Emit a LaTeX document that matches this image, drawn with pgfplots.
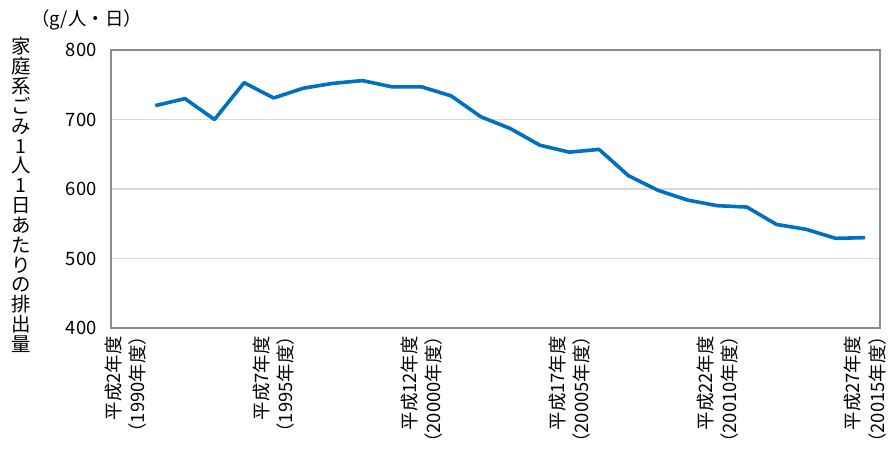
\documentclass[border=0pt]{standalone}
\usepackage{pgfplots}
\pgfplotsset{compat=1.18}
\usepackage{fontspec}
\setmainfont{Noto Sans CJK JP}
\definecolor{serieblue}{HTML}{0070C0}
\definecolor{gridgray}{HTML}{D9D9D9}
\definecolor{framegray}{HTML}{8C8C8C}
\newcommand{\yr}[1]{\kern-0.5em（#1年度）\kern-0.5em}
\begin{document}
\begin{tikzpicture}
\useasboundingbox (-111bp,-124bp) rectangle (780bp,328bp);
\begin{axis}[
  at={(0,0)}, anchor=south west,
  scale only axis, width=769bp, height=278bp,
  xmin=-0.5, xmax=25.5, ymin=400, ymax=800,
  ytick={400,500,600,700,800},
  xtick={0,5,10,15,20,25},
  xticklabels={
    {平成2年度\\\yr{1990}},
    {平成7年度\\\yr{1995}},
    {平成12年度\\\yr{20000}},
    {平成17年度\\\yr{20005}},
    {平成22年度\\\yr{20010}},
    {平成27年度\\\yr{20015}}},
  axis line style={framegray, line width=1.3bp},
  ymajorgrids, grid style={gridgray, line width=1.3bp},
  major tick length=0pt,
  tick style={draw=none},
  yticklabel style={font=\fontsize{18.5}{22}\selectfont, xshift=-11bp},
  xticklabel style={xshift=0bp, yshift=-6bp, rotate=90, anchor=east, align=right, inner sep=2bp, font=\fontsize{18.5}{24.5}\selectfont},
  /pgf/number format/assume math mode=true,
  clip=false,
]
\addplot[serieblue, line width=3.6bp, line join=round] coordinates {
(1,720) (2,730) (3,700) (4,753) (5,731) (6,745) (7,752) (8,756) (9,747) (10,747)
(11,734) (12,704) (13,687) (14,663) (15,653) (16,657) (17,619) (18,598) (19,584)
(20,576) (21,574) (22,549) (23,542) (24,529) (25,530)
};
\end{axis}
\node[align=center, font=\fontsize{19.5}{19.9}\selectfont] at (-90bp,133bp)
  {家\\庭\\系\\ご\\み\\1\\人\\1\\日\\あ\\た\\り\\の\\排\\出\\量};
\node[font=\fontsize{18.5}{22}\selectfont] at (-24.5bp,308.5bp) {（g/人・日）};
\end{tikzpicture}
\end{document}
